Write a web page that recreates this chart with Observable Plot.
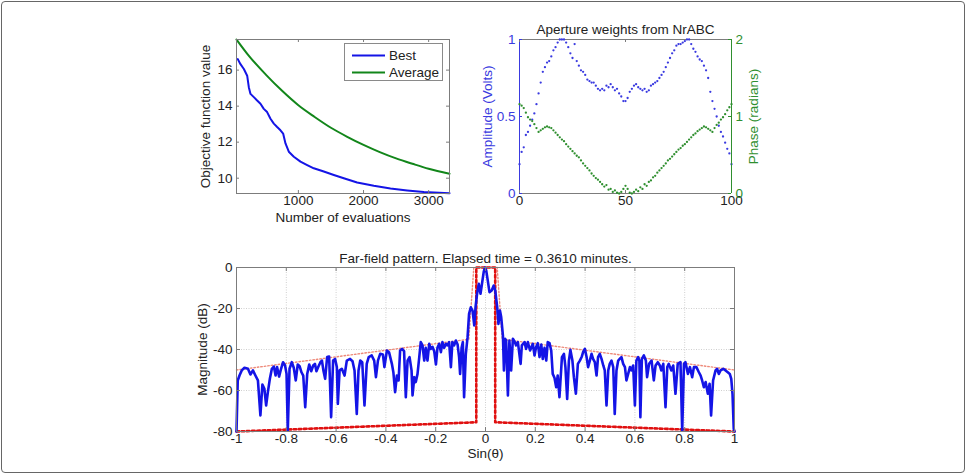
<!DOCTYPE html>
<html>
<head>
<meta charset="utf-8">
<script src="https://cdn.jsdelivr.net/npm/d3@7"></script>
<script src="https://cdn.jsdelivr.net/npm/@observablehq/plot@0.6"></script>
<style>
  html, body { margin: 0; padding: 0; background: #fff; }
  #fig { position: relative; width: 966px; height: 474px; overflow: hidden; background: #fff;
         font-family: "Liberation Sans", Arial, Helvetica, sans-serif; }
  #border { position: absolute; left: 1px; top: 1px; width: 964px; height: 472px; box-sizing: border-box;
            border: 1.3px solid #666; border-radius: 4px; }
  .legend { position: absolute; left: 344px; top: 43px; width: 99px; height: 38px; box-sizing: border-box;
            border: 1px solid #8a8a8a; background: #fff; }
</style>
</head>
<body>
<div id="fig"><div id="border"></div></div>
<script>
// ---------- Optimizer convergence ----------
const evalBest = [70, 111, 163, 214, 239, 265, 316, 367, 418, 469, 520, 572, 623, 674, 725, 766, 802, 853, 930, 1032, 1135, 1237, 1390, 1544, 1697, 1902, 2158, 2414, 2670, 2926, 3320];
const best     = [16.61, 16.33, 16.06, 15.69, 15.05, 14.68, 14.50, 14.31, 14.13, 13.85, 13.67, 13.30, 13.03, 12.84, 12.66, 12.48, 11.93, 11.47, 11.19, 10.92, 10.73, 10.55, 10.37, 10.18, 10.00, 9.76, 9.58, 9.43, 9.32, 9.23, 9.17];
const evalAvg  = [50, 250, 500, 750, 1000, 1250, 1500, 1750, 2000, 2250, 2500, 2750, 3000, 3320];
const average  = [17.70, 16.75, 15.75, 14.85, 14.05, 13.40, 12.80, 12.30, 11.85, 11.45, 11.10, 10.80, 10.52, 10.25];
const convXTicks = [1000, 2000, 3000];
const convYTicks = [10, 12, 14, 16];

// ---------- Aperture weights (element 0..100) ----------
const amplitude = [
  0.19,0.27,0.30,0.38,0.40,0.44,0.48,0.52,0.58,0.65,
  0.72,0.79,0.82,0.85,0.86,0.89,0.93,0.95,0.98,1.00,
  1.00,1.00,0.98,0.95,0.91,0.88,0.97,0.86,0.83,0.80,
  0.79,0.77,0.74,0.73,0.72,0.72,0.70,0.68,0.67,0.68,
  0.67,0.70,0.69,0.71,0.69,0.67,0.68,0.65,0.63,0.60,
  0.60,0.62,0.66,0.68,0.70,0.71,0.69,0.68,0.67,0.68,
  0.66,0.67,0.70,0.71,0.72,0.73,0.75,0.77,0.79,0.82,
  0.85,0.88,0.91,0.93,0.96,0.97,0.97,0.98,0.99,1.00,
  1.00,0.97,0.94,0.92,0.89,0.87,0.86,0.83,0.80,0.75,
  0.66,0.60,0.55,0.50,0.44,0.40,0.37,0.33,0.29,0.26,
  0.19];
const phase = [
  1.16,1.14,1.11,1.05,0.99,0.96,0.94,0.90,0.85,0.80,
  0.82,0.84,0.86,0.87,0.86,0.85,0.82,0.79,0.76,0.73,
  0.70,0.68,0.64,0.61,0.58,0.55,0.52,0.49,0.47,0.43,
  0.39,0.36,0.33,0.30,0.26,0.23,0.20,0.18,0.15,0.12,
  0.09,0.11,0.05,0.06,0.02,0.04,0.01,0.00,0.02,0.06,
  0.10,0.06,0.01,0.00,0.02,0.05,0.03,0.08,0.06,0.12,
  0.10,0.15,0.17,0.21,0.23,0.27,0.30,0.33,0.36,0.39,
  0.43,0.45,0.48,0.51,0.54,0.57,0.59,0.62,0.64,0.67,
  0.70,0.73,0.76,0.78,0.81,0.83,0.85,0.87,0.86,0.84,
  0.82,0.80,0.85,0.89,0.92,0.96,0.99,1.03,1.08,1.12,
  1.16];
const elemTicks = [0, 50, 100];
const ampTicks = [0, 0.5, 1];
const phaseTicks = [0, 1, 2];

// ---------- Far-field pattern: [sin(theta), dB] ----------
const farField = [
  [-1,-80],[-0.995,-55.1],[-0.988,-52.7],[-0.979,-50.2],[-0.968,-48.9],[-0.954,-49.4],[-0.944,-52.2],[-0.934,-50.2],
  [-0.924,-52.7],[-0.914,-55.1],[-0.904,-72.2],[-0.896,-57.1],[-0.888,-59.2],[-0.881,-67.3],[-0.874,-60.8],[-0.866,-54.3],
  [-0.858,-49.4],[-0.850,-48.3],[-0.843,-52.7],[-0.837,-48.6],[-0.829,-53.2],[-0.821,-49.4],[-0.813,-46.2],[-0.805,-47.8],
  [-0.799,-51.9],[-0.794,-79.5],[-0.787,-49.4],[-0.778,-46.2],[-0.770,-48.9],[-0.762,-55.1],[-0.754,-47.3],[-0.746,-48.3],
  [-0.739,-51.1],[-0.732,-52.7],[-0.724,-68.1],[-0.716,-51.9],[-0.708,-47.3],[-0.700,-50.6],[-0.692,-47.8],[-0.685,-47.0],
  [-0.679,-50.6],[-0.671,-48.3],[-0.663,-46.2],[-0.657,-45.4],[-0.651,-50.2],[-0.644,-54.3],[-0.636,-43.7],[-0.628,-43.4],
  [-0.620,-73.0],[-0.612,-45.4],[-0.604,-44.6],[-0.597,-48.6],[-0.593,-66.5],[-0.586,-50.2],[-0.577,-49.4],[-0.566,-52.7],
  [-0.557,-45.4],[-0.544,-44.6],[-0.534,-45.7],[-0.526,-50.2],[-0.517,-71.4],[-0.510,-50.2],[-0.503,-45.4],[-0.495,-46.2],
  [-0.486,-67.3],[-0.477,-47.0],[-0.469,-43.7],[-0.457,-42.9],[-0.447,-45.4],[-0.440,-53.5],[-0.432,-45.4],[-0.423,-42.1],
  [-0.412,-42.4],[-0.406,-48.6],[-0.396,-40.5],[-0.387,-41.5],[-0.376,-47.0],[-0.370,-51.1],[-0.363,-60.8],[-0.356,-52.7],
  [-0.349,-55.1],[-0.343,-40.5],[-0.335,-39.7],[-0.327,-40.8],[-0.320,-63.3],[-0.313,-45.4],[-0.305,-43.7],[-0.297,-50.2],
  [-0.293,-62.4],[-0.286,-53.5],[-0.280,-55.9],[-0.273,-51.9],[-0.266,-43.7],[-0.260,-36.4],[-0.253,-38.0],[-0.246,-45.4],
  [-0.240,-39.2],[-0.233,-45.4],[-0.226,-37.2],[-0.220,-39.7],[-0.213,-38.7],[-0.206,-40.8],[-0.199,-47.3],[-0.193,-39.2],
  [-0.186,-37.2],[-0.179,-41.3],[-0.173,-36.4],[-0.166,-39.2],[-0.159,-37.2],[-0.153,-38.0],[-0.146,-36.4],[-0.139,-48.6],
  [-0.133,-36.4],[-0.126,-38.0],[-0.119,-35.6],[-0.112,-37.6],[-0.106,-43.7],[-0.102,-51.9],[-0.096,-39.2],[-0.091,-36.4],
  [-0.086,-63.3],[-0.079,-42.1],[-0.072,-34.0],[-0.066,-22.6],[-0.059,-19.4],[-0.052,-21.0],[-0.045,-28.3],[-0.040,-19.4],
  [-0.034,-13.0],[-0.027,-8.0],[-0.020,-12.8],[-0.013,-7.0],[-0.007,-2.0],[-0.002,0],[0.003,-1.5],[0.009,-6.3],
  [0.016,-12.0],[0.025,-11.2],[0.033,-8.8],[0.039,-11.2],[0.047,-19.4],[0.052,-27.5],[0.058,-21.0],[0.063,-24.2],
  [0.070,-33.2],[0.074,-50.2],[0.079,-34.8],[0.083,-35.6],[0.090,-62.4],[0.096,-35.6],[0.103,-50.2],[0.110,-34.8],
  [0.116,-35.9],[0.123,-38.0],[0.130,-36.4],[0.141,-47.0],[0.146,-38.0],[0.157,-36.4],[0.163,-39.7],[0.170,-36.4],
  [0.179,-40.5],[0.190,-37.2],[0.197,-42.9],[0.203,-38.9],[0.210,-36.9],[0.217,-43.7],[0.224,-37.6],[0.230,-44.6],
  [0.237,-39.2],[0.244,-45.4],[0.250,-36.4],[0.257,-36.9],[0.264,-40.5],[0.270,-51.9],[0.277,-53.8],[0.284,-58.4],
  [0.290,-52.7],[0.297,-63.3],[0.307,-43.7],[0.315,-42.1],[0.321,-48.6],[0.328,-64.1],[0.335,-45.4],[0.341,-40.2],
  [0.349,-45.4],[0.355,-53.5],[0.363,-61.6],[0.371,-47.0],[0.379,-45.4],[0.387,-43.4],[0.392,-41.3],[0.399,-39.7],
  [0.406,-43.7],[0.412,-48.6],[0.419,-45.4],[0.426,-42.1],[0.432,-44.6],[0.439,-46.2],[0.446,-52.7],[0.452,-43.7],
  [0.459,-42.1],[0.466,-44.6],[0.473,-47.8],[0.479,-50.2],[0.486,-67.3],[0.493,-50.2],[0.499,-47.0],[0.506,-45.4],
  [0.513,-48.6],[0.519,-71.4],[0.526,-50.2],[0.533,-45.4],[0.539,-44.6],[0.546,-43.7],[0.553,-47.0],[0.560,-48.6],
  [0.566,-55.1],[0.573,-51.9],[0.580,-48.6],[0.586,-50.2],[0.593,-47.8],[0.600,-67.3],[0.606,-45.4],[0.613,-43.7],
  [0.618,-45.4],[0.622,-73.0],[0.628,-44.6],[0.636,-42.9],[0.644,-45.4],[0.649,-53.5],[0.657,-47.0],[0.667,-45.4],
  [0.676,-55.1],[0.683,-47.8],[0.692,-46.2],[0.700,-47.8],[0.706,-50.2],[0.714,-47.0],[0.723,-68.1],[0.730,-48.6],
  [0.736,-47.0],[0.746,-50.2],[0.754,-47.8],[0.763,-61.6],[0.772,-47.0],[0.783,-46.2],[0.790,-79.5],[0.797,-47.0],
  [0.803,-46.2],[0.813,-51.9],[0.821,-48.6],[0.830,-53.5],[0.837,-48.6],[0.847,-48.6],[0.857,-51.1],[0.864,-52.7],
  [0.870,-55.1],[0.877,-58.4],[0.884,-55.9],[0.893,-61.6],[0.900,-56.7],[0.906,-72.2],[0.914,-55.1],[0.924,-50.2],
  [0.930,-49.4],[0.937,-51.9],[0.944,-50.2],[0.955,-49.4],[0.964,-50.2],[0.973,-51.1],[0.981,-51.9],[0.987,-54.3],
  [0.992,-61.6],[0.997,-78.7],[1,-80]
];
// Sidelobe masks: [sin(theta), dB]
const upperMask = [[-1,-50],[-0.067,-35],[-0.047,0],[0.047,0],[0.067,-35],[1,-50]];
const lowerMask = [[-1,-80],[-0.037,-75.5],[-0.037,0],[0.039,0],[0.039,-75.5],[1,-80]];
const sinTicks = [-1,-0.8,-0.6,-0.4,-0.2,0,0.2,0.4,0.6,0.8,1];
const dbTicks = [-80,-60,-40,-20,0];

// ---------- shared styling ----------
const FONT = '"Liberation Sans", Arial, Helvetica, sans-serif';
const INK = "#222";
const FRAME = "#7c7c7c";
const BLUE = "#1414e6";
const GREEN = "#12861a";
const AMP_BLUE = "#3a3ae0";
const PH_GREEN = "#2f8f2f";
const fig = document.getElementById("fig");

function place(node, left, top) {
  const d = document.createElement("div");
  d.style.cssText = `position:absolute;left:${left}px;top:${top}px;`;
  d.appendChild(node);
  fig.appendChild(d);
}
const style = {fontFamily: FONT, fontSize: "13.5px", background: "transparent", overflow: "visible", color: INK};

// inward tick marks drawn along the frame edges
function ticksBottomTop(values, innerH, len, stroke) {
  return [
    Plot.ruleX(values, {x: d => d, insetTop: innerH - len, stroke}),
    Plot.ruleX(values, {x: d => d, insetBottom: innerH - len, stroke})
  ];
}
function ticksLeft(values, innerW, len, stroke) {
  return Plot.ruleY(values, {y: d => d, insetRight: innerW - len, stroke});
}
function ticksRight(values, innerW, len, stroke) {
  return Plot.ruleY(values, {y: d => d, insetLeft: innerW - len, stroke});
}
// rotated axis title, centred on the frame side
function sideLabel(label, side, offset, fill) {
  return Plot.text([label], {frameAnchor: side, dx: side === "left" ? -offset : offset, rotate: -90,
                             textAnchor: "middle", text: d => d, fill});
}

// ---------- panel 1: convergence ----------
{
  const W = 280, H = 225, m = {l: 56, t: 29, r: 11, b: 42};
  const iw = W - m.l - m.r, ih = H - m.t - m.b;
  const best_ = evalBest.map((e, i) => ({e, v: best[i]}));
  const avg_ = evalAvg.map((e, i) => ({e, v: average[i]}));
  const p = Plot.plot({
    width: W, height: H, marginLeft: m.l, marginTop: m.t, marginRight: m.r, marginBottom: m.b,
    style,
    x: {domain: [50, 3320], axis: null},
    y: {domain: [9.15, 17.7], axis: null},
    marks: [
      Plot.line(avg_, {x: "e", y: "v", stroke: GREEN, strokeWidth: 2, curve: "monotone-x"}),
      Plot.line(best_, {x: "e", y: "v", stroke: BLUE, strokeWidth: 2}),
      Plot.frame({stroke: FRAME}),
      ...ticksBottomTop(convXTicks, ih, 3, FRAME),
      ticksLeft(convYTicks, iw, 3, FRAME),
      ticksRight(convYTicks, iw, 3, FRAME),
      Plot.text(convXTicks, {x: d => d, frameAnchor: "bottom", dy: 11, text: d => String(d), fill: INK}),
      Plot.text(convYTicks, {y: d => d, frameAnchor: "left", dx: -4, textAnchor: "end", text: d => String(d), fill: INK}),
      Plot.text(["Number of evaluations"], {frameAnchor: "bottom", dy: 28, text: d => d, fill: INK}),
      sideLabel("Objective function value", "left", 31, INK)
    ]
  });
  place(p, 180, 10);

  // legend box
  const lg = document.createElement("div");
  lg.className = "legend";
  lg.innerHTML = `<svg width="99" height="38" style="position:absolute;left:-1px;top:-1px;font-family:${FONT.replace(/"/g, "'")};font-size:13.5px">
    <line x1="8" x2="41" y1="12.5" y2="12.5" stroke="${BLUE}" stroke-width="2"/>
    <text x="45" y="12.5" dy="0.35em" fill="${INK}">Best</text>
    <line x1="8" x2="41" y1="29.5" y2="29.5" stroke="${GREEN}" stroke-width="2"/>
    <text x="45" y="29.5" dy="0.35em" fill="${INK}">Average</text></svg>`;
  fig.appendChild(lg);
}

// ---------- panel 2: aperture weights (two y scales overlaid) ----------
{
  const W = 300, H = 225, m = {l: 49, t: 29, r: 39, b: 42};
  const iw = W - m.l - m.r, ih = H - m.t - m.b;
  const elems = amplitude.map((a, i) => ({i, a, p: phase[i]}));
  const common = {width: W, height: H, marginLeft: m.l, marginTop: m.t, marginRight: m.r, marginBottom: m.b, style,
                  x: {domain: [0, 100], axis: null}};
  const ampPlot = Plot.plot({
    ...common,
    y: {domain: [0, 1], axis: null},
    marks: [
      Plot.ruleY([0, 1], {y: d => d, stroke: FRAME}),
      Plot.ruleX([0], {x: d => d, stroke: AMP_BLUE}),
      ...ticksBottomTop(elemTicks, ih, 3, FRAME),
      ticksLeft(ampTicks, iw, 3, AMP_BLUE),
      Plot.dot(elems, {x: "i", y: "a", r: 1.15, fill: AMP_BLUE, stroke: null}),
      Plot.text(elemTicks, {x: d => d, frameAnchor: "bottom", dy: 11, text: d => String(d), fill: INK}),
      Plot.text(ampTicks, {y: d => d, frameAnchor: "left", dx: -4, textAnchor: "end", text: d => String(d), fill: AMP_BLUE}),
      sideLabel("Amplitude (Volts)", "left", 32, AMP_BLUE),
      Plot.text(["Aperture weights from NrABC"], {frameAnchor: "top", dy: -15, text: d => d, fill: INK})
    ]
  });
  const phPlot = Plot.plot({
    ...common,
    y: {domain: [0, 2], axis: null},
    marks: [
      Plot.ruleX([100], {x: d => d, stroke: PH_GREEN}),
      ticksRight(phaseTicks, iw, 3, PH_GREEN),
      Plot.dot(elems, {x: "i", y: "p", r: 1.15, fill: PH_GREEN, stroke: null}),
      Plot.text(phaseTicks, {y: d => d, frameAnchor: "right", dx: 4, textAnchor: "start", text: d => String(d), fill: PH_GREEN}),
      sideLabel("Phase (radians)", "right", 22, PH_GREEN)
    ]
  });
  place(ampPlot, 470, 10);
  place(phPlot, 470, 10);
}

// ---------- panel 3: far-field pattern ----------
{
  const W = 570, H = 234, m = {l: 56, t: 27, r: 16, b: 43};
  const iw = W - m.l - m.r, ih = H - m.t - m.b;
  const pts = farField.map(([s, db]) => ({s, db}));
  const up = upperMask.map(([s, db]) => ({s, db}));
  const lo = lowerMask.map(([s, db]) => ({s, db}));
  const gridX = sinTicks.slice(1, -1), gridY = dbTicks.slice(1, -1);
  const p = Plot.plot({
    width: W, height: H, marginLeft: m.l, marginTop: m.t, marginRight: m.r, marginBottom: m.b,
    style,
    x: {domain: [-1, 1], axis: null},
    y: {domain: [-80, 0], axis: null},
    marks: [
      Plot.ruleX(gridX, {x: d => d, stroke: "#cfcfcf", strokeDasharray: "1,1.5"}),
      Plot.ruleY(gridY, {y: d => d, stroke: "#cfcfcf", strokeDasharray: "1,1.5"}),
      Plot.line(up, {x: "s", y: "db", stroke: "#ee8a7a", strokeWidth: 1.4, strokeDasharray: "1.5,2"}),
      Plot.line(lo, {x: "s", y: "db", stroke: "#e01010", strokeWidth: 2.6, strokeDasharray: "2.6,2.6"}),
      Plot.line(pts, {x: "s", y: "db", stroke: BLUE, strokeWidth: 2.6, strokeLinejoin: "round"}),
      Plot.frame({stroke: FRAME}),
      ...ticksBottomTop(sinTicks, ih, 4, FRAME),
      ticksLeft(dbTicks, iw, 4, FRAME),
      ticksRight(dbTicks, iw, 4, FRAME),
      Plot.text(sinTicks, {x: d => d, frameAnchor: "bottom", dy: 11, text: d => String(d), fill: INK}),
      Plot.text(dbTicks, {y: d => d, frameAnchor: "left", dx: -4, textAnchor: "end", text: d => String(d), fill: INK}),
      Plot.text(["Sin(\u03b8)"], {frameAnchor: "bottom", dy: 26, text: d => d, fill: INK}),
      sideLabel("Magnitude (dB)", "left", 34, INK),
      Plot.text(["Far-field pattern. Elapsed time = 0.3610 minutes."], {frameAnchor: "top", dy: -14, text: d => d, fill: INK})
    ]
  });
  place(p, 180, 240);
}
</script>
</body>
</html>
